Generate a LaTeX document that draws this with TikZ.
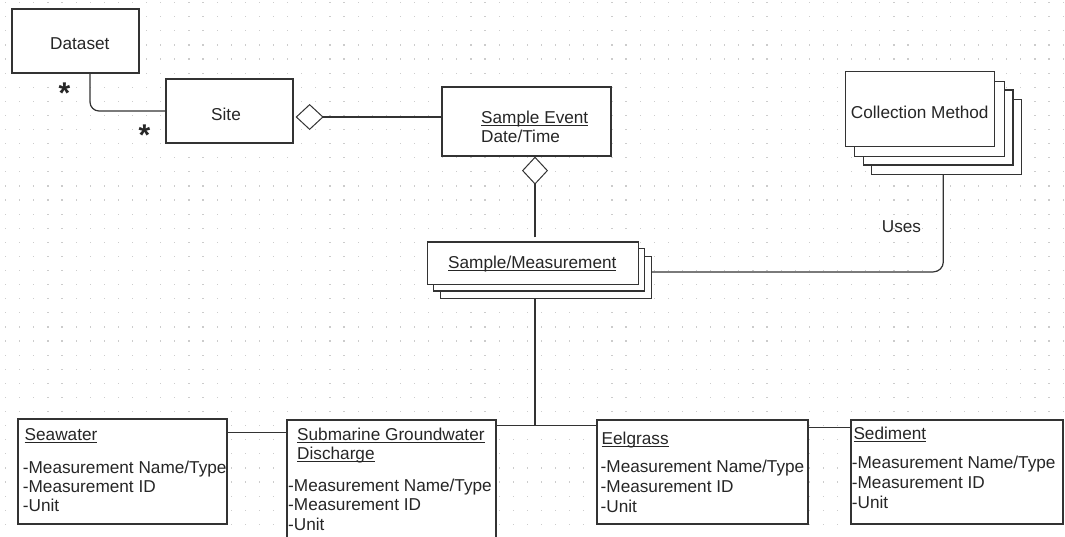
\documentclass[tikz,border=0pt]{standalone}
\usepackage{fontspec}
\setmainfont{Liberation Sans}
\usetikzlibrary{arrows.meta,calc}
\newcommand\uln[1]{\setbox0=\hbox{#1}\rlap{\raisebox{-2.5pt}{\rule{\wd0}{1pt}}}\box0}
\begin{document}
\begin{tikzpicture}[x=1pt,y=-1pt,
  every node/.style={font=\fontsize{17.2}{19.5}\selectfont, text=black!85},
  box/.style={draw=black!80, line width=1.2pt, fill=white, rectangle, inner sep=0pt},
  conn/.style={draw=black!80, line width=1.2pt},
  lbl/.style={anchor=base west, inner sep=0pt},
  agg/.style={conn, -{Diamond[fill=white, length=28pt, width=26pt, line width=1pt]}},
  star/.style={lbl, font=\fontsize{30}{30}\selectfont\bfseries},
]
\useasboundingbox (0,0) rectangle (1065,536);
\clip (0,0) rectangle (1065,536);
\fill[white] (0,0) rectangle (1065,536);
% dotted grid
\foreach \i in {0,...,75}{\foreach \j in {0,...,38}{\fill[black!20] ({5+14.1*\i},{2+14.1*\j}) rectangle ++(1.2,1.2);}}

% top boxes
\node[box, minimum width=127pt, minimum height=64pt] (dataset) at (75.5,41) {};
\node[lbl] (datasetT) at (50,49.3) {Dataset};
\node[box, minimum width=127pt, minimum height=64pt] (site) at (229.5,111) {};
\node[lbl] (siteT) at (211,120.7) {Site};
\node[box, minimum width=169pt, minimum height=69pt] (event) at (526.5,121.5) {};
\node[lbl] (eventT) at (481,123.3) {\uln{Sample Event}};
\node[lbl] (eventD) at (481,142.7) {Date/Time};

% collection method stack
\node[box, minimum width=149.6pt, minimum height=75pt] (cm4) at (946.5,136.8) {};
\node[box, minimum width=149.6pt, minimum height=75pt] (cm3) at (938.2,127.5) {};
\node[box, minimum width=149.6pt, minimum height=75pt] (cm2) at (929.5,118.7) {};
\node[box, minimum width=149.6pt, minimum height=75pt] (cm1) at (920,108.8) {};
\node[lbl] (cmT) at (850.7,118.3) {Collection Method};

% sample / measurement stack
\node[box, minimum width=211pt, minimum height=42.3pt] (sm3) at (545.8,277.5) {};
\node[box, minimum width=211pt, minimum height=42.3pt] (sm2) at (538.8,269.9) {};
\node[box, minimum width=211pt, minimum height=42.3pt] (sm1) at (533.2,263.1) {};
\node[lbl] (smT) at (448,268.3) {\uln{Sample/Measurement}};

% bottom boxes
\node[box, minimum width=209pt, minimum height=105pt] (sea) at (122.5,471.5) {};
\node[box, minimum width=209pt, minimum height=130pt] (sgd) at (391.5,485) {};
\node[box, minimum width=211pt, minimum height=104pt] (eel) at (702.5,472) {};
\node[box, minimum width=212pt, minimum height=104pt] (sed) at (957,472) {};

\node[lbl] (seaT) at (24.5,440) {\uln{Seawater}};
\node[lbl] (seaA) at (22.7,473.3) {-Measurement Name/Type};
\node[lbl] (seaB) at (22.7,492.3) {-Measurement ID};
\node[lbl] (seaC) at (22.7,511.7) {-Unit};

\node[lbl] (sgdT) at (297,440) {\uln{Submarine Groundwater}};
\node[lbl] (sgdT2) at (297,459.3) {\uln{Discharge}};
\node[lbl] (sgdA) at (288,491) {-Measurement Name/Type};
\node[lbl] (sgdB) at (288,510) {-Measurement ID};
\node[lbl] (sgdC) at (288,530) {-Unit};

\node[lbl] (eelT) at (601.5,444.3) {\uln{Eelgrass}};
\node[lbl] (eelA) at (600.5,472.3) {-Measurement Name/Type};
\node[lbl] (eelB) at (600.5,492.3) {-Measurement ID};
\node[lbl] (eelC) at (600.5,512) {-Unit};

\node[lbl] (sedT) at (853.3,439.3) {\uln{Sediment}};
\node[lbl] (sedA) at (851.7,468.3) {-Measurement Name/Type};
\node[lbl] (sedB) at (851.7,488.3) {-Measurement ID};
\node[lbl] (sedC) at (851.7,508.3) {-Unit};

% multiplicities
\node[star] (mult1) at (58.5,103.5) {*};
\node[star] (mult2) at (138.5,145.8) {*};

% connectors
\draw[conn, rounded corners=9pt] ([xshift=14.5pt]dataset.south) |- (site.west);
\draw[agg, shorten >=2pt] ([yshift=4.5pt]event.west) -- ($(event.west -| site.east)+(0,-4.5)$);
\draw[agg] ($(sm1.north)+(1.8,-4)$) -- ($(sm1.north |- event.south)+(1.8,0)$);
\draw[conn, rounded corners=10pt] ([yshift=5.6pt]sm3.east) -| ([xshift=-3.2pt]cm4.south);
\node[lbl] (uses) at (881.7,232.3) {Uses};
\draw[conn] ([xshift=-10.8pt]sm3.south) -- ($(sm3.south |- sgd.north)+(-10.8,6)$);
\draw[conn] ($(sgd.north east)+(0,6)$) -- ($(eel.north west)+(0,6)$);
\draw[conn] ($(sea.north east)+(0,14)$) -- ($(sgd.north west)+(0,13)$);
\draw[conn] ($(eel.north east)+(0,8.3)$) -- ($(sed.north west)+(0,8.3)$);
\end{tikzpicture}
\end{document}
